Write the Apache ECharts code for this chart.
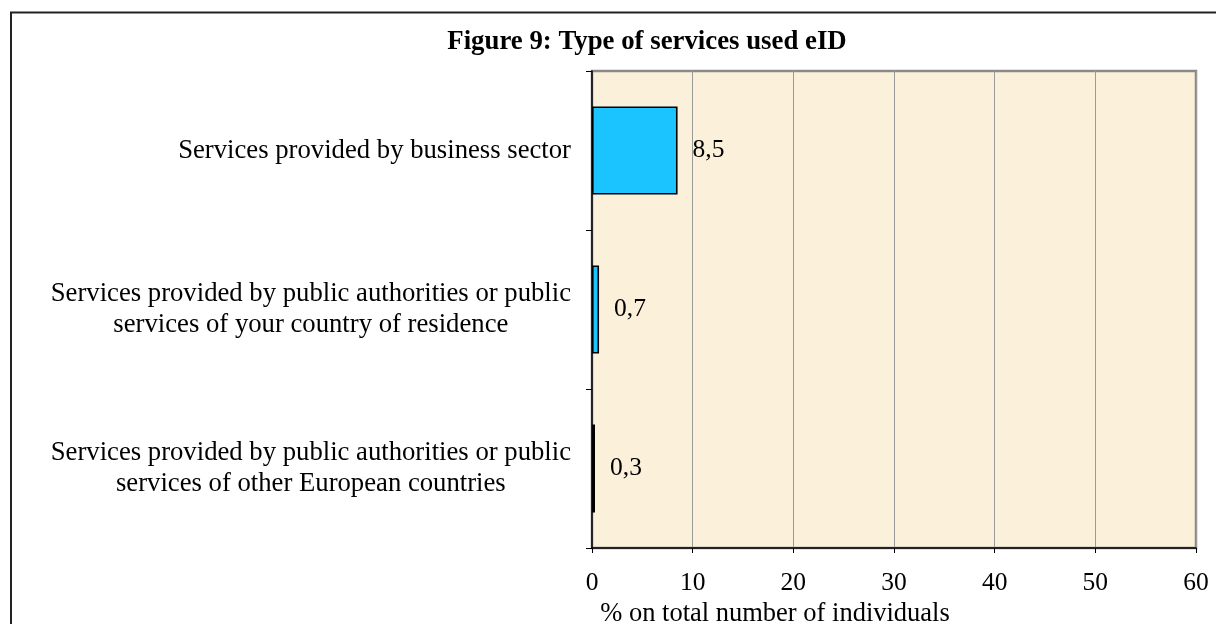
<!DOCTYPE html>
<html>
<head>
<meta charset="utf-8">
<script src="https://cdn.jsdelivr.net/npm/echarts@6/dist/echarts.min.js"></script>
<style>
  html, body { margin: 0; padding: 0; background: #ffffff; }
  #chart { width: 1216px; height: 624px; }
</style>
</head>
<body>
<div id="chart"></div>
<script>
// Figure 9 data: share of individuals by type of service used with eID
const categories = [
  'Services provided by business sector',
  'Services provided by public authorities or public\nservices of your country of residence',
  'Services provided by public authorities or public\nservices of other European countries'
];
const values = [8.5, 0.7, 0.3];
const xTicks = { min: 0, max: 60, interval: 10 };
const titleText = 'Figure 9: Type of services used eID';
const xAxisName = '% on total number of individuals';

const serif = "'Liberation Serif', 'Times New Roman', serif";

const chart = echarts.init(document.getElementById('chart'), null, { renderer: 'canvas' });

chart.setOption({
  backgroundColor: '#ffffff',
  animation: false,
  title: {
    text: titleText,
    left: 642,
    top: 24,
    textAlign: 'center',
    textStyle: { fontFamily: serif, fontSize: 26.8, fontWeight: 'bold', color: '#000' }
  },
  graphic: [
    {
      // outer frame (only top and left edges fall inside the page)
      type: 'rect',
      shape: { x: 11, y: 12.5, width: 1400, height: 800 },
      style: { fill: null, stroke: '#222', lineWidth: 2 },
      silent: true,
      z: 0
    }
  ],
  grid: {
    left: 592,
    top: 71,
    width: 604,
    height: 477,
    outerBoundsMode: 'none',
    containLabel: false,
    show: true,
    backgroundColor: '#FBF0DA',
    borderColor: '#8a8a8a',
    borderWidth: 2.5
  },
  xAxis: {
    type: 'value',
    min: xTicks.min,
    max: xTicks.max,
    interval: xTicks.interval,
    name: xAxisName,
    nameLocation: 'middle',
    nameGap: 49,
    nameTextStyle: {
      fontFamily: serif, fontSize: 26.5, color: '#000',
      padding: [0, 238, 0, 0]
    },
    axisLine: { show: true, onZero: false, lineStyle: { color: '#000', width: 1.5 } },
    axisTick: { show: true, length: 5, lineStyle: { color: '#000', width: 1 } },
    axisLabel: { margin: 22, fontFamily: serif, fontSize: 25.5, color: '#000' },
    splitLine: { show: true, lineStyle: { color: '#9a9a9a', width: 1 } }
  },
  yAxis: {
    type: 'category',
    inverse: true,
    data: categories,
    axisLine: { show: true, lineStyle: { color: '#000', width: 1.5 } },
    axisTick: { show: true, length: 6, lineStyle: { color: '#000', width: 1 } },
    axisLabel: {
      margin: 21,
      align: 'right',
      lineHeight: 31,
      formatter: function (v) {
        return v.split('\n').map(function (s) { return '{c|' + s + '}'; }).join('\n');
      },
      rich: {
        c: { fontFamily: serif, fontSize: 26.7, color: '#000', align: 'center', lineHeight: 31 }
      }
    },
    splitLine: { show: false }
  },
  series: [
    {
      type: 'bar',
      data: values,
      barWidth: 88,
      itemStyle: { color: '#1BC4FF', borderColor: '#000', borderWidth: 1.6 },
      label: {
        show: true,
        position: 'right',
        distance: 15,
        fontFamily: serif,
        fontSize: 25.5,
        color: '#000',
        formatter: function (p) { return String(p.value).replace('.', ','); }
      }
    }
  ]
});
</script>
</body>
</html>
